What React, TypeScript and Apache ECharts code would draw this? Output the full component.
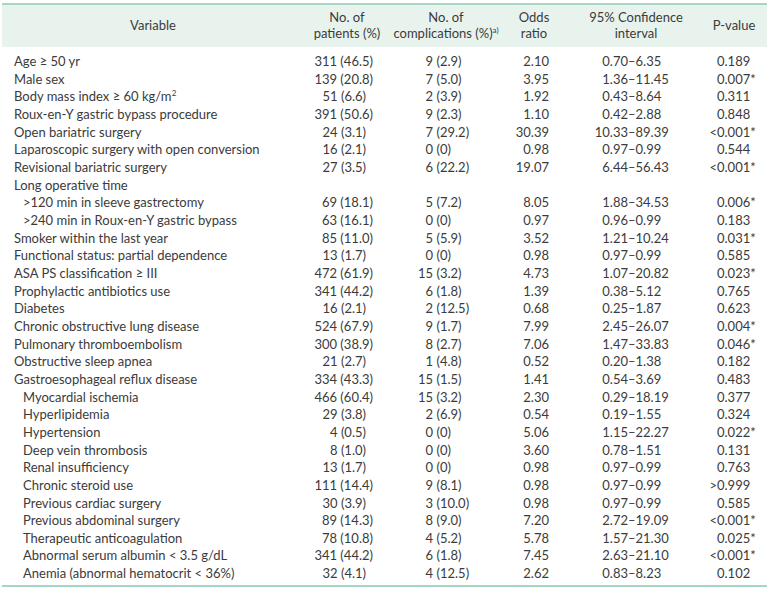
import React, { useEffect, useRef } from 'react';
import * as echarts from 'echarts';

// ---------- data ----------
const variables: string[] = [
  'Age ≥ 50 yr',
  'Male sex',
  'Body mass index ≥ 60 kg/m{sup|2}',
  'Roux-en-Y gastric bypass procedure',
  'Open bariatric surgery',
  'Laparoscopic surgery with open conversion',
  'Revisional bariatric surgery',
  'Long operative time',
  '>120 min in sleeve gastrectomy',
  '>240 min in Roux-en-Y gastric bypass',
  'Smoker within the last year',
  'Functional status: partial dependence',
  'ASA PS classification ≥ III',
  'Prophylactic antibiotics use',
  'Diabetes',
  'Chronic obstructive lung disease',
  'Pulmonary thromboembolism',
  'Obstructive sleep apnea',
  'Gastroesophageal reflux disease',
  'Myocardial ischemia',
  'Hyperlipidemia',
  'Hypertension',
  'Deep vein thrombosis',
  'Renal insufficiency',
  'Chronic steroid use',
  'Previous cardiac surgery',
  'Previous abdominal surgery',
  'Therapeutic anticoagulation',
  'Abnormal serum albumin < 3.5 g/dL',
  'Anemia (abnormal hematocrit < 36%)',
];
const indentLevels: number[] = [
  0, 0, 0, 0, 0, 0, 0, 0, 1, 1, 0, 0, 0, 0, 0, 0, 0, 0, 0,
  1, 1, 1, 1, 1, 1, 1, 1, 1, 1, 1,
];
const patientsN: (string | null)[] = [
  '311', '139', '51', '391', '24', '16', '27', null, '69', '63', '85', '13', '472', '341', '16',
  '524', '300', '21', '334', '466', '29', '4', '8', '13', '111', '30', '89', '78', '341', '32',
];
const patientsPct: (string | null)[] = [
  '46.5', '20.8', '6.6', '50.6', '3.1', '2.1', '3.5', null, '18.1', '16.1', '11.0', '1.7', '61.9', '44.2', '2.1',
  '67.9', '38.9', '2.7', '43.3', '60.4', '3.8', '0.5', '1.0', '1.7', '14.4', '3.9', '14.3', '10.8', '44.2', '4.1',
];
const complN: (string | null)[] = [
  '9', '7', '2', '9', '7', '0', '6', null, '5', '0', '5', '0', '15', '6', '2',
  '9', '8', '1', '15', '15', '2', '0', '0', '0', '9', '3', '8', '4', '6', '4',
];
const complPct: (string | null)[] = [
  '2.9', '5.0', '3.9', '2.3', '29.2', '0', '22.2', null, '7.2', '0', '5.9', '0', '3.2', '1.8', '12.5',
  '1.7', '2.7', '4.8', '1.5', '3.2', '6.9', '0', '0', '0', '8.1', '10.0', '9.0', '5.2', '1.8', '12.5',
];
const oddsRatio: (string | null)[] = [
  '2.10', '3.95', '1.92', '1.10', '30.39', '0.98', '19.07', null, '8.05', '0.97', '3.52', '0.98', '4.73', '1.39', '0.68',
  '7.99', '7.06', '0.52', '1.41', '2.30', '0.54', '5.06', '3.60', '0.98', '0.98', '0.98', '7.20', '5.78', '7.45', '2.62',
];
const ciLower: (string | null)[] = [
  '0.70', '1.36', '0.43', '0.42', '10.33', '0.97', '6.44', null, '1.88', '0.96', '1.21', '0.97', '1.07', '0.38', '0.25',
  '2.45', '1.47', '0.20', '0.54', '0.29', '0.19', '1.15', '0.78', '0.97', '0.97', '0.97', '2.72', '1.57', '2.63', '0.83',
];
const ciUpper: (string | null)[] = [
  '6.35', '11.45', '8.64', '2.88', '89.39', '0.99', '56.43', null, '34.53', '0.99', '10.24', '0.99', '20.82', '5.12', '1.87',
  '26.07', '33.83', '1.38', '3.69', '18.19', '1.55', '22.27', '1.51', '0.99', '0.99', '0.99', '19.09', '21.30', '21.10', '8.23',
];
const pValues: (string | null)[] = [
  '0.189', '0.007*', '0.311', '0.848', '<0.001*', '0.544', '<0.001*', null, '0.006*', '0.183', '0.031*', '0.585', '0.023*', '0.765', '0.623',
  '0.004*', '0.046*', '0.182', '0.483', '0.377', '0.324', '0.022*', '0.131', '0.763', '>0.999', '0.585', '<0.001*', '0.025*', '<0.001*', '0.102',
];
const headerVariable = 'Variable';
const headerPatients = ['No. of', 'patients (%)'];
const headerCompl = ['No. of', 'complications (%){sup|a)}'];
const headerOdds = ['Odds', 'ratio'];
const headerCI = ['95% Confidence', 'interval'];
const headerP = 'P-value';

// ---------- layout / style ----------
const W = 769;
const H = 589;
const FONT = 'Lato';
const FS = 13;
const TEXT = '#3b3b3b';
const HEADER_BG = '#e8f3ee';
const RULE = '#a6d6c4';
const ROW0 = 61;
const STEP = 17.66;
const DIGIT_W = 7;

const rich = {
  sup: { fontSize: 8, fontFamily: FONT, fill: TEXT, verticalAlign: 'top', lineHeight: 14 },
};

function txt(text: string, x: number, y: number, align: string) {
  return {
    type: 'text',
    x,
    y,
    silent: true,
    style: {
      text,
      textAlign: align,
      textVerticalAlign: 'middle',
      fontFamily: FONT,
      fontSize: FS,
      fill: TEXT,
      lineHeight: 14,
      rich,
    },
  };
}

function buildGraphic() {
  const els: any[] = [];
  els.push({ type: 'rect', silent: true, shape: { x: 2, y: 4, width: W - 4, height: 43 }, style: { fill: HEADER_BG } });
  els.push({ type: 'line', silent: true, shape: { x1: 2, y1: 4, x2: W - 2, y2: 4 }, style: { stroke: RULE, lineWidth: 2 } });
  els.push({ type: 'line', silent: true, shape: { x1: 2, y1: 586, x2: W - 2, y2: 586 }, style: { stroke: RULE, lineWidth: 2 } });

  const h1 = 16.5, h2 = 32.5, hm = 25;
  els.push(txt(headerVariable, 153, hm, 'center'));
  els.push(txt(headerPatients[0], 347, h1, 'center'));
  els.push(txt(headerPatients[1], 347, h2, 'center'));
  els.push(txt(headerCompl[0], 446, h1, 'center'));
  els.push(txt(headerCompl[1], 446, h2, 'center'));
  els.push(txt(headerOdds[0], 534, h1, 'center'));
  els.push(txt(headerOdds[1], 534, h2, 'center'));
  els.push(txt(headerCI[0], 636, h1, 'center'));
  els.push(txt(headerCI[1], 636, h2, 'center'));
  els.push(txt(headerP, 734, hm, 'center'));

  variables.forEach((v, i) => {
    const y = ROW0 + i * STEP;
    els.push(txt(v, indentLevels[i] ? 23 : 14, y, 'left'));
    const pn = patientsN[i];
    if (pn === null) return;
    const pp = patientsPct[i] as string;
    const pShift = parseFloat(pp) < 10 ? DIGIT_W : 0;
    els.push(txt(`${pn} (${pp})`, 373 - pShift, y, 'right'));
    els.push(txt(complN[i] as string, 433, y, 'right'));
    els.push(txt(`(${complPct[i]})`, 436.5, y, 'left'));
    els.push(txt(oddsRatio[i] as string, 549, y, 'right'));
    els.push(txt(ciLower[i] as string, 628, y, 'right'));
    els.push(txt(`–${ciUpper[i]}`, 628, y, 'left'));
    const pv = pValues[i] as string;
    const m = pv.match(/^([<>]?)(.*)$/) as RegExpMatchArray;
    if (m[1]) els.push(txt(m[1], 717, y, 'right'));
    els.push(txt(m[2], 717, y, 'left'));
  });
  return els;
}

export default function App() {
  const ref = useRef<HTMLDivElement>(null);
  useEffect(() => {
    if (!ref.current) return;
    const chart = echarts.init(ref.current, undefined, { renderer: 'svg' });
    chart.setOption({
      animation: false,
      backgroundColor: '#ffffff',
      graphic: { elements: buildGraphic() },
    });
    return () => chart.dispose();
  }, []);
  return (
    <div
      ref={ref}
      style={{ position: 'absolute', left: 0, top: 0, width: W, height: H, background: '#fff' }}
    />
  );
}
